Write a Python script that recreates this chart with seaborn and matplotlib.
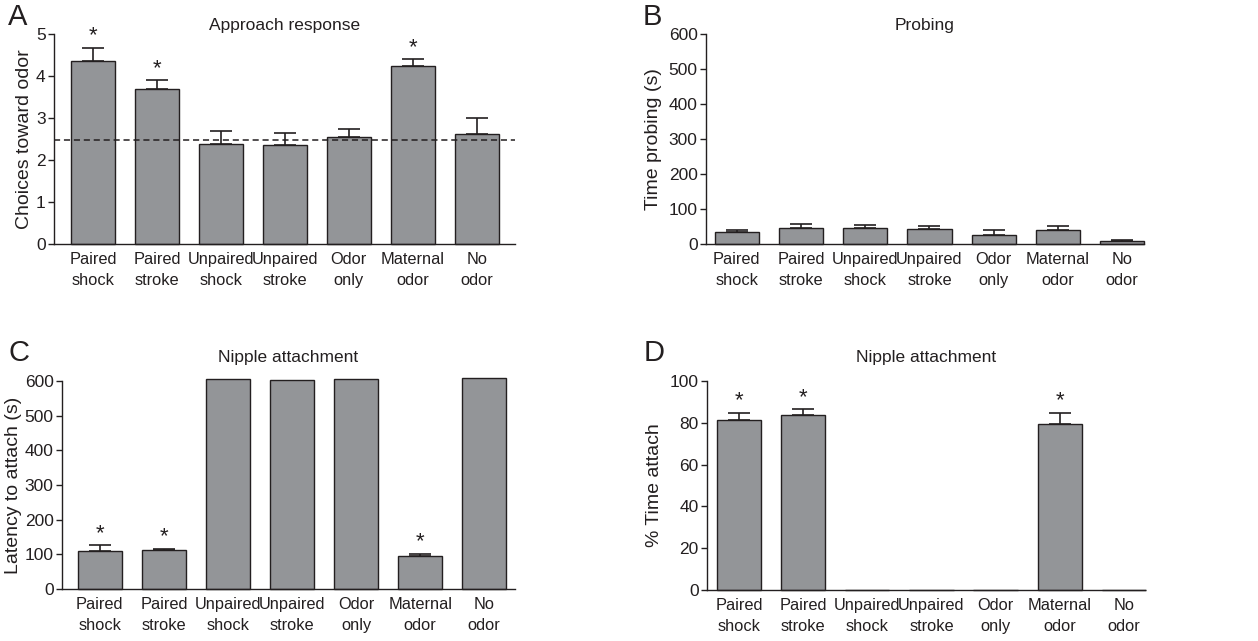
import pandas as pd
import matplotlib
matplotlib.use('Agg')
import matplotlib.pyplot as plt
import seaborn as sns

# Group labels shared by all four panels
groups = ['Paired\nshock', 'Paired\nstroke', 'Unpaired\nshock', 'Unpaired\nstroke',
          'Odor\nonly', 'Maternal\nodor', 'No\nodor']

# A: approach response
approach_mean = [4.36, 3.70, 2.37, 2.36, 2.54, 4.24, 2.63]
approach_err = [0.31, 0.20, 0.31, 0.29, 0.19, 0.16, 0.37]
approach_sig = [True, True, False, False, False, True, False]
chance_level = 2.48

# B: probing
probing_mean = [33, 45, 47, 42, 26, 39, 8]
probing_err = [6, 13, 7, 10, 13, 13, 4]
probing_sig = [False] * 7

# C: latency to attach
latency_mean = [110, 113, 606, 604, 606, 94, 608]
latency_err = [16, 3, 0, 0, 0, 7, 0]
latency_sig = [True, True, False, False, False, True, False]

# D: % time attached
attach_mean = [81.2, 83.9, 0, 0, 0, 79.4, 0]
attach_err = [3.6, 2.5, 0, 0, 0, 5.4, 0]
attach_sig = [True, True, False, False, False, True, False]

bar_color = '#939598'
ink = '#231f20'

sns.set_style('ticks')
plt.rcParams['font.family'] = ['Liberation Sans', 'DejaVu Sans']
plt.rcParams['text.color'] = ink
plt.rcParams['axes.labelcolor'] = ink
plt.rcParams['xtick.color'] = ink
plt.rcParams['ytick.color'] = ink
plt.rcParams['axes.edgecolor'] = ink

W, H = 1258, 641
fig = plt.figure(figsize=(W / 100, H / 100), dpi=100)


def px_axes(left, right, top, bottom):
    return fig.add_axes([left / W, 1 - bottom / H, (right - left) / W, (bottom - top) / H])


def draw_panel(ax, means, errs, sig, ymax, yticks, ylabel, title, letter,
               xlim, label_x, title_pad):
    df = pd.DataFrame({'group': groups, 'value': means})
    sns.barplot(data=df, x='group', y='value', color=bar_color, saturation=1,
                width=0.69, edgecolor=ink, linewidth=1.0, errorbar=None, ax=ax)
    for p in ax.patches:
        p.set_clip_on(False)

    xs = [i for i, e in enumerate(errs) if e > 0]
    ax.errorbar(xs, [means[i] for i in xs],
                yerr=[[0] * len(xs), [errs[i] for i in xs]],
                fmt='none', ecolor=ink, elinewidth=1.2, capsize=8, capthick=1.2,
                clip_on=False)

    for i, s in enumerate(sig):
        if s:
            ax.annotate('*', (i, means[i] + errs[i]), xytext=(0, 1),
                        textcoords='offset points', ha='center', va='bottom',
                        fontsize=16, annotation_clip=False)

    ax.set_xlim(*xlim)
    ax.set_ylim(0, ymax)
    ax.set_yticks(yticks)
    ax.set_xticks(range(len(groups)))
    ax.set_xticklabels(groups, fontsize=11.8, linespacing=1.5)
    ax.tick_params(axis='y', labelsize=12.5, direction='out', length=4, width=1, pad=2)
    ax.tick_params(axis='x', length=0, pad=6)
    ax.set_xlabel('')
    ax.set_ylabel(ylabel, fontsize=14)
    ax.yaxis.set_label_coords(label_x, 0.5)
    ax.set_title(title, fontsize=12.5, pad=title_pad)
    for sp in ['left', 'bottom']:
        ax.spines[sp].set_linewidth(1.0)
    sns.despine(ax=ax)
    ax.text(letter[1], letter[2], letter[0], transform=fig.transFigure,
            fontsize=21, ha='left', va='top')


axA = px_axes(54, 515, 34, 244)
draw_panel(axA, approach_mean, approach_err, approach_sig, 5, range(0, 6),
           'Choices toward odor', 'Approach response', ('A', 8 / W, 1 - 3 / H),
           (-0.61, 6.6), -0.045, 3)
axA.axhline(chance_level, color=ink, linestyle=(0, (4, 2.5)), linewidth=1.1, zorder=5)

axB = px_axes(706, 1144, 34, 244)
draw_panel(axB, probing_mean, probing_err, probing_sig, 600, range(0, 601, 100),
           'Time probing (s)', 'Probing', ('B', 643 / W, 1 - 3 / H),
           (-0.48, 6.34), -0.1, 3)

axC = px_axes(62, 515, 381, 589)
draw_panel(axC, latency_mean, latency_err, latency_sig, 600, range(0, 601, 100),
           'Latency to attach (s)', 'Nipple attachment', ('C', 8 / W, 1 - 339 / H),
           (-0.59, 6.48), -0.088, 14)

axD = px_axes(707, 1145, 381, 590)
draw_panel(axD, attach_mean, attach_err, attach_sig, 100, range(0, 101, 20),
           '% Time attach', 'Nipple attachment', ('D', 644 / W, 1 - 339 / H),
           (-0.5, 6.33), -0.1, 14)

fig.savefig('out.png', dpi=100)
